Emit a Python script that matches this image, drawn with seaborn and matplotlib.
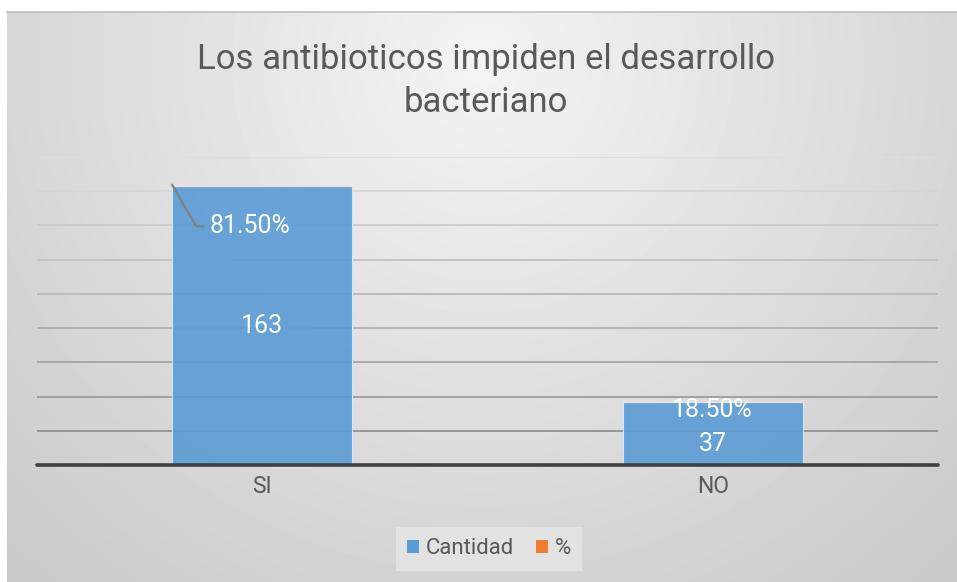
import numpy as np
import pandas as pd
import matplotlib
matplotlib.use("Agg")
import matplotlib.pyplot as plt
import seaborn as sns

# datos del grafico
categorias = ["SI", "NO"]
cantidad = [163, 37]
porcentaje = [0.815, 0.185]
etiquetas_pct = ["81.50%", "18.50%"]
titulo = "Los antibioticos impiden el desarrollo\nbacteriano"

sns.set_theme(style="white")
plt.rcParams["font.family"] = ["Roboto", "DejaVu Sans"]
plt.rcParams["font.weight"] = "normal"

fig = plt.figure(figsize=(9.57, 5.82), dpi=100)

# fondo con degradado radial (estilo excel)
bg = fig.add_axes([7 / 957, 0, 950 / 957, 570 / 582])
h, w = 570, 950
yy, xx = np.mgrid[0:h, 0:w]
r = np.hypot(xx - w * 0.5, yy - 50) / 704
img = 0.955 - 0.17 * r
bg.imshow(img, cmap="gray", vmin=0, vmax=1, aspect="auto", interpolation="bilinear")
bg.set_xticks([])
bg.set_yticks([])
for s in ["left", "right", "bottom"]:
    bg.spines[s].set_visible(False)
bg.spines["top"].set_color("#c0c0c0")
bg.spines["top"].set_linewidth(1.2)

# area del grafico
ax = fig.add_axes([37 / 957, 117 / 582, 901 / 957, 308 / 582])
ax.patch.set_alpha(0)

df = pd.DataFrame({"categoria": categorias, "Cantidad": cantidad, "pct": porcentaje})
sns.barplot(data=df, x="categoria", y="Cantidad", color="#5B9BD5", saturation=1,
            width=0.4, alpha=0.9, edgecolor="#dce8f5", linewidth=0.8,
            ax=ax, zorder=3, label="Cantidad")
ax.bar(range(len(categorias)), porcentaje, bottom=cantidad, width=0.4,
       color="#ED7D31", alpha=0.35, zorder=3, label="%")

ax.set_xlim(-0.5, 1.5)
ax.set_ylim(0, 180)
ax.set_yticks(range(0, 181, 20))
ax.set_yticklabels([])
ax.set_xlabel("")
ax.set_ylabel("")
ax.tick_params(axis="both", length=0)
ax.tick_params(axis="x", pad=7, labelsize=16.5, labelcolor="#595959")

# lineas de cuadricula, mas oscuras abajo
ax.yaxis.grid(True, linewidth=1.2, zorder=1)
gl = ax.get_ygridlines()
n = len(gl)
for i, line in enumerate(gl):
    if i == 0:
        line.set_visible(False)
        continue
    g = 0.55 + 0.32 * (i - 1) / (n - 2)
    line.set_color((g, g, g))
for s in ax.spines.values():
    s.set_visible(False)
ax.axhline(0, color="#404040", linewidth=2.6, zorder=4, clip_on=False)

# etiquetas de datos
fs = 18
for i, (c, p, lab) in enumerate(zip(cantidad, porcentaje, etiquetas_pct)):
    if i == 0:
        ax.text(i, c / 2, str(c), ha="center", va="center", color="white",
                fontsize=fs, zorder=5)
        ax.annotate(lab, xy=(i - 0.2, c + p), xytext=(27, -30),
                    textcoords="offset points", ha="left", va="center",
                    color="white", fontsize=fs, zorder=5,
                    arrowprops=dict(arrowstyle="-", color="#7f7f7f", lw=1.5,
                                    connectionstyle="angle,angleA=0,angleB=-60",
                                    relpos=(0, 0.5), shrinkA=2, shrinkB=0))
    else:
        ax.annotate(str(c), xy=(i, c / 2), xytext=(0, -8),
                    textcoords="offset points", ha="center", va="center",
                    color="white", fontsize=fs, zorder=5)
        ax.annotate(lab, xy=(i, c + p), xytext=(0, -6.5),
                    textcoords="offset points", ha="center", va="center",
                    color="white", fontsize=fs, zorder=5)

# titulo
fig.text(486 / 957, 1 - 81 / 582, titulo, ha="center", va="center",
         fontsize=25, color="#595959", linespacing=1.35)

# leyenda
leg = ax.legend(loc="center", bbox_to_anchor=(489 / 957, 1 - 549 / 582),
                bbox_transform=fig.transFigure, ncol=2, frameon=True,
                fancybox=False, facecolor="#e2e2e2", edgecolor="none",
                framealpha=1, fontsize=16, handlelength=0.55, handleheight=0.55,
                handletextpad=0.3, columnspacing=1.0, borderpad=0.5)
for t in leg.get_texts():
    t.set_color("#595959")
for hnd in leg.legend_handles:
    hnd.set_alpha(1)
    hnd.set_edgecolor("none")

fig.savefig("out.png", dpi=100)
